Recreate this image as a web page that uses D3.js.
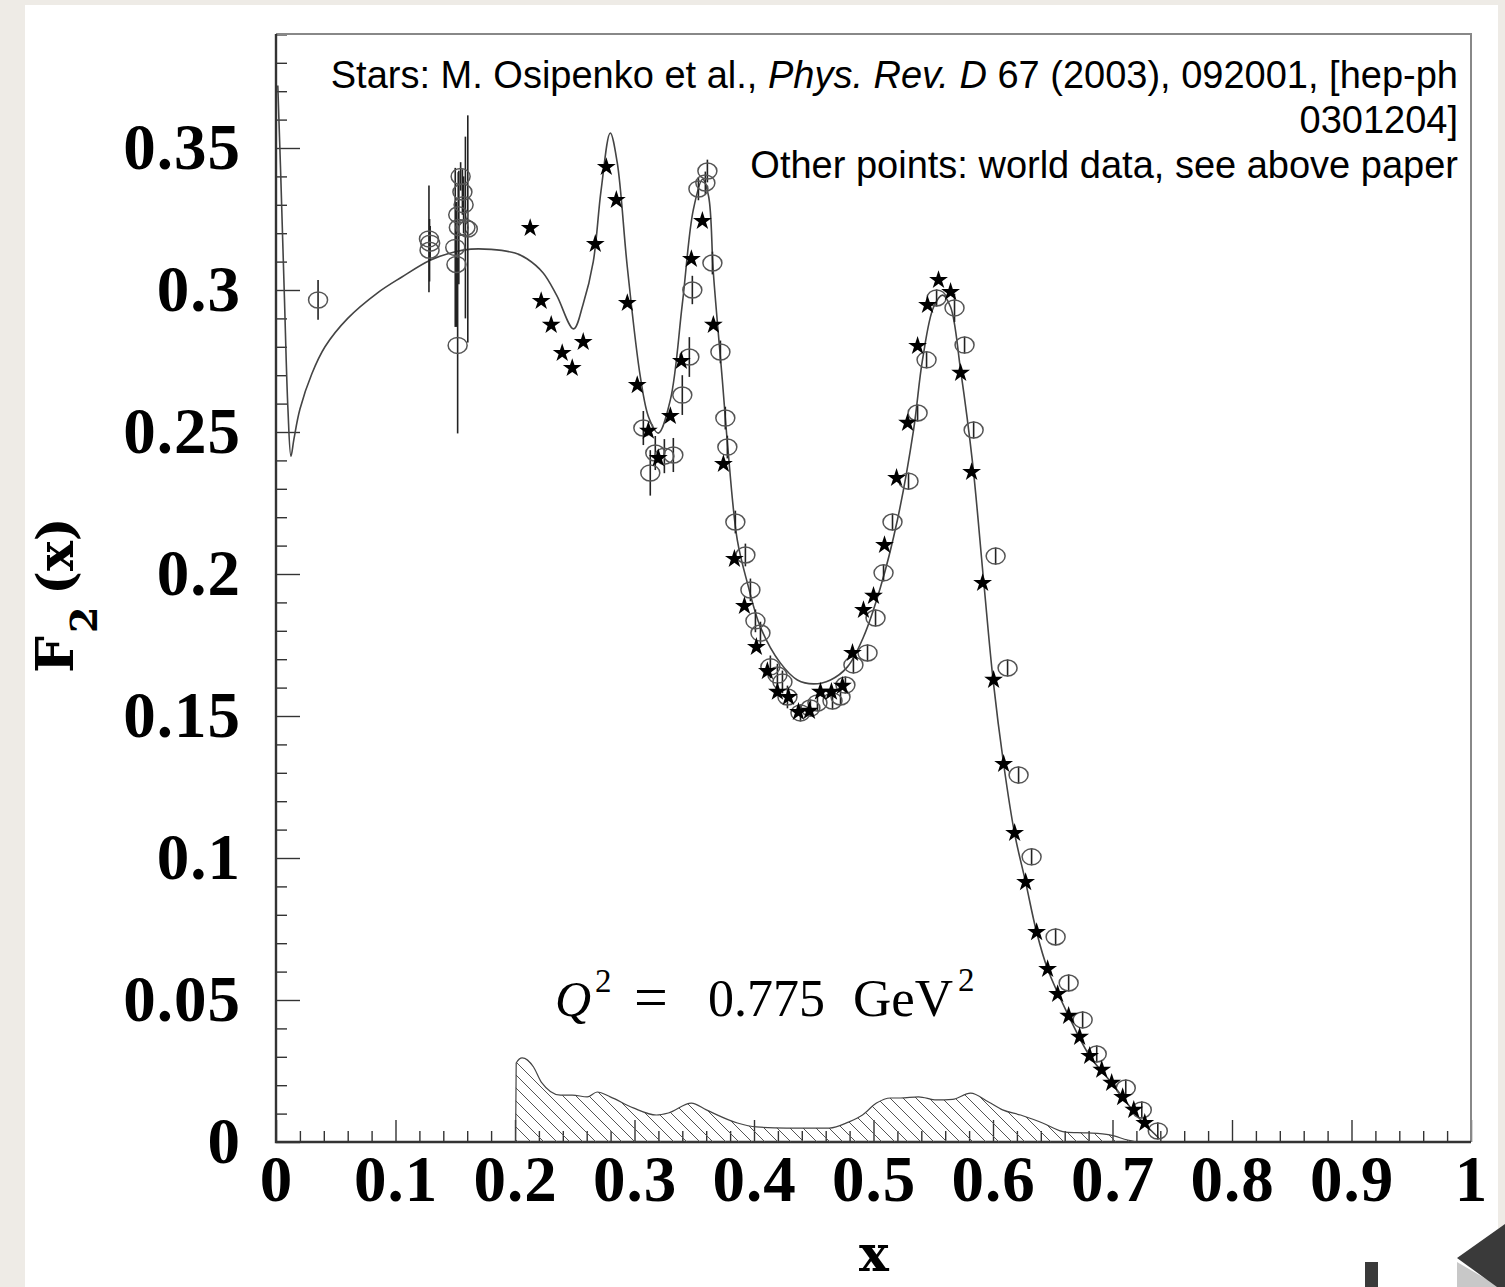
<!DOCTYPE html>
<html>
<head>
<meta charset="utf-8">
<script src="https://cdn.jsdelivr.net/npm/d3@7"></script>
<style>
  html, body { margin: 0; padding: 0; background: #eeebe6; }
  svg { display: block; }
</style>
</head>
<body>
<div id="chart"></div>
<script>
// model curve  [x, F2]
var curvePts = [
  [0.0015,0.372],[0.004,0.340],[0.007,0.298],[0.010,0.258],[0.0125,0.2415],[0.015,0.2475],
  [0.020,0.258],[0.030,0.2705],[0.041,0.280],[0.060,0.290],[0.085,0.299],[0.105,0.3045],
  [0.129,0.3105],[0.150,0.3135],[0.163,0.3144],[0.180,0.3143],[0.200,0.313],[0.210,0.311],
  [0.2236,0.306],[0.235,0.298],[0.249,0.2863],[0.257,0.295],[0.2655,0.310],[0.272,0.335],
  [0.2797,0.3553],[0.2855,0.345],[0.294,0.308],[0.3049,0.2694],[0.312,0.255],[0.3199,0.2496],
  [0.330,0.2613],[0.340,0.295],[0.3492,0.3282],[0.357,0.339],[0.362,0.333],[0.366,0.306],
  [0.3735,0.2683],[0.378,0.245],[0.386,0.212],[0.3945,0.1968],[0.4054,0.1813],[0.422,0.1687],
  [0.4363,0.1627],[0.4497,0.1613],[0.464,0.1627],[0.4782,0.1673],[0.4916,0.1778],[0.5059,0.1954],
  [0.520,0.219],[0.5335,0.2507],[0.541,0.2754],[0.5503,0.294],[0.5578,0.2982],[0.5645,0.294],
  [0.5729,0.2718],[0.5829,0.2391],[0.5921,0.1979],[0.600,0.163],[0.6089,0.1331],[0.618,0.1088],
  [0.6273,0.0915],[0.6365,0.0739],[0.6457,0.0609],[0.6633,0.0444],[0.6809,0.0303],[0.6993,0.0208],
  [0.7085,0.0158],[0.720,0.0095],[0.730,0.005],[0.7387,0.0014]
]

// stars: Osipenko et al. (CLAS)
var stars = [
  [0.2127,0.3218],[0.2219,0.2961],[0.2303,0.2877],[0.2395,0.2778],[0.2479,0.2725],[0.2571,0.2817],
  [0.2672,0.3162],[0.2764,0.3433],[0.2848,0.3317],[0.2940,0.2954],[0.3023,0.2665],[0.3116,0.2504],
  [0.3199,0.2408],[0.3300,0.2556],[0.3392,0.2750],[0.3476,0.3109],[0.3568,0.3243],[0.3660,0.2877],
  [0.3744,0.2387],[0.3836,0.2053],[0.3920,0.1887],[0.4020,0.1743],[0.4112,0.1658],[0.4196,0.1585],
  [0.4288,0.1567],[0.4372,0.1514],[0.4464,0.1518],[0.4556,0.1585],[0.4648,0.1585],[0.4740,0.1606],
  [0.4824,0.1722],[0.4916,0.1873],[0.5000,0.1923],[0.5092,0.2102],[0.5193,0.2338],[0.5285,0.2532],
  [0.5369,0.2803],[0.5452,0.2947],[0.5544,0.3035],[0.5645,0.2993],[0.5729,0.2708],[0.5821,0.2359],
  [0.5913,0.1968],[0.6005,0.1627],[0.6089,0.1331],[0.6181,0.1088],[0.6273,0.0915],[0.6365,0.0739],
  [0.6457,0.0609],[0.6541,0.0521],[0.6633,0.0444],[0.6725,0.0370],[0.6809,0.0303],[0.6910,0.0254],
  [0.6993,0.0208],[0.7085,0.0158],[0.7178,0.0113],[0.7270,0.0067]
]

// open circles: world data  [x, F2, error]
var world = [
  [0.0352,0.2965,0.0070],
  [0.1280,0.3180,0.0188],[0.1285,0.3140,0.0110],[0.1290,0.3165,0.0060],
  [0.1545,0.3400,0.0050],[0.1560,0.3345,0.0080],[0.1570,0.3300,0.0100],[0.1525,0.3265,0.0150],
  [0.1530,0.3220,0.0200],[0.1585,0.3220,0.0320],[0.1605,0.3215,0.0400],[0.1500,0.3150,0.0280],
  [0.1510,0.3090,0.0220],[0.1520,0.2805,0.0310],
  [0.3610,0.3419,0.0040],[0.3593,0.3377,0.0040],[0.3535,0.3356,0.0040],[0.3652,0.3095,0.0040],
  [0.3484,0.3000,0.0050],[0.3719,0.2782,0.0040],[0.3459,0.2764,0.0070],[0.3400,0.2630,0.0070],
  [0.3760,0.2549,0.0040],[0.3074,0.2514,0.0060],[0.3777,0.2447,0.0040],[0.3174,0.2426,0.0060],
  [0.3325,0.2419,0.0060],[0.3250,0.2415,0.0060],[0.3132,0.2356,0.0080],
  [0.3844,0.2183,0.0040],[0.3928,0.2067,0.0040],[0.3970,0.1944,0.0040],[0.4012,0.1835,0.0040],
  [0.4054,0.1792,0.0040],[0.4137,0.1673,0.0040],[0.4196,0.1644,0.0040],[0.4238,0.1620,0.0040],
  [0.4280,0.1567,0.0040],[0.4389,0.1511,0.0030],[0.4472,0.1528,0.0030],[0.4531,0.1546,0.0030],
  [0.4657,0.1553,0.0030],[0.4724,0.1567,0.0030],[0.4765,0.1609,0.0030],[0.4832,0.1680,0.0030],
  [0.4950,0.1722,0.0030],[0.5017,0.1845,0.0030],[0.5084,0.2004,0.0030],[0.5159,0.2183,0.0030],
  [0.5293,0.2327,0.0030],[0.5369,0.2567,0.0030],[0.5444,0.2754,0.0030],[0.5528,0.2972,0.0030],
  [0.5678,0.2937,0.0050],[0.5762,0.2806,0.0030],[0.5838,0.2507,0.0030],[0.6022,0.2063,0.0030],
  [0.6122,0.1669,0.0030],[0.6214,0.1292,0.0030],[0.6323,0.1004,0.0030],[0.6524,0.0722,0.0030],
  [0.6633,0.0560,0.0030],[0.6750,0.0430,0.0030],[0.6868,0.0310,0.0030],[0.7111,0.0190,0.0030],
  [0.7245,0.0113,0.0030],[0.7379,0.0039,0.0030]
]

// systematic error band (hatched)
var band = [
  [0.2005,0],[0.2010,0.0278],[0.2060,0.0296],[0.2155,0.0264],[0.2220,0.0211],[0.2380,0.0165],
  [0.2480,0.0165],[0.2605,0.0159],[0.2688,0.0176],[0.2797,0.0159],[0.2990,0.0120],[0.3183,0.0095],
  [0.3283,0.0102],[0.3476,0.0137],[0.3601,0.0113],[0.3861,0.0067],[0.4020,0.0053],[0.4271,0.0049],
  [0.4631,0.0049],[0.4790,0.0070],[0.4908,0.0095],[0.5025,0.0137],[0.5142,0.0155],[0.5226,0.0155],
  [0.5377,0.0159],[0.5528,0.0148],[0.5662,0.0150],[0.5812,0.0172],[0.5963,0.0141],[0.6080,0.0113],
  [0.6231,0.0095],[0.6415,0.0067],[0.6608,0.0035],[0.6792,0.0032],[0.6977,0.0025],[0.7127,0.0007],
  [0.7203,0]
]

var xTicks = [0, 0.1, 0.2, 0.3, 0.4, 0.5, 0.6, 0.7, 0.8, 0.9, 1]
var yTicks = [0, 0.05, 0.1, 0.15, 0.2, 0.25, 0.3, 0.35]
var xTickLabels = ['0', '0.1', '0.2', '0.3', '0.4', '0.5', '0.6', '0.7', '0.8', '0.9', '1']
var yTickLabels = ['0', '0.05', '0.1', '0.15', '0.2', '0.25', '0.3', '0.35']

var W = 1505, H = 1287
// plot frame (note: 'top' is reserved on window, so use pLeft etc)
var pLeft = 276, pRight = 1471, pTop = 34, pBottom = 1142

var svg = d3.select('#chart').append('svg')
    .attr('width', W)
    .attr('height', H)

// slide background + white card
svg.append('rect').attr('width', W).attr('height', H).style('fill', '#eeebe6')
svg.append('rect').attr('x', 25).attr('y', 5).attr('width', 1473).attr('height', H - 5)
    .style('fill', '#fff')

var defs = svg.append('defs')
var pat = defs.append('pattern')
    .attr('id', 'hatch')
    .attr('patternUnits', 'userSpaceOnUse')
    .attr('width', 13).attr('height', 13)
pat.append('path')
    .attr('d', 'M0,0 L13,13 M-2,11 L2,15 M11,-2 L15,2')
    .style('stroke', '#555').style('stroke-width', 1)
defs.append('clipPath').attr('id', 'plotclip')
    .append('rect').attr('x', pLeft).attr('y', pTop)
    .attr('width', pRight - pLeft).attr('height', pBottom - pTop)

var x = d3.scaleLinear().domain([0, 1]).range([pLeft, pRight])
var y = d3.scaleLinear().domain([0, 0.05]).range([pBottom, pBottom - 142])

// minor ticks
var xMinor = d3.range(0, 1.0001, 0.02).filter(function (d) { return Math.abs(d * 10 - Math.round(d * 10)) > 1e-6 })
var yMinor = d3.range(0, 0.3901, 0.01).filter(function (d) { return Math.abs(d * 20 - Math.round(d * 20)) > 1e-6 })

svg.append('g')
    .attr('transform', 'translate(0,' + pBottom + ')')
    .call(d3.axisBottom(x).tickValues(xMinor).tickSize(-11).tickFormat(''))
    .call(function (g) { g.select('.domain').remove() })
svg.append('g')
    .attr('transform', 'translate(' + pLeft + ',0)')
    .call(d3.axisLeft(y).tickValues(yMinor).tickSize(-11).tickFormat(''))
    .call(function (g) { g.select('.domain').remove() })

var gx = svg.append('g')
    .attr('transform', 'translate(0,' + pBottom + ')')
    .call(d3.axisBottom(x).tickValues(xTicks).tickSize(-22).tickPadding(13)
        .tickFormat(function (d, i) { return xTickLabels[i] }))
var gy = svg.append('g')
    .attr('transform', 'translate(' + pLeft + ',0)')
    .call(d3.axisLeft(y).tickValues(yTicks).tickSize(-24).tickPadding(35)
        .tickFormat(function (d, i) { return yTickLabels[i] }))

;[gx, gy].forEach(function (g) {
    g.select('.domain').remove()
    g.selectAll('text')
        .style('font-family', '"Liberation Serif", "Times New Roman", serif')
        .style('font-weight', 'bold')
        .style('font-size', '65px')
        .style('letter-spacing', '1px')
        .style('fill', '#000')
})
svg.selectAll('.tick line').style('stroke', '#333').style('stroke-width', 1.4)

// frame
svg.append('path')
    .attr('d', 'M' + pLeft + ',' + pTop + 'H' + pRight + 'V' + pBottom)
    .style('fill', 'none').style('stroke', '#888').style('stroke-width', 2)
svg.append('path')
    .attr('d', 'M' + pLeft + ',' + pTop + 'V' + pBottom + 'H' + pRight)
    .style('fill', 'none').style('stroke', '#333').style('stroke-width', 2.4)

var plot = svg.append('g').attr('clip-path', 'url(#plotclip)')

// hatched band
plot.append('path')
    .datum(band)
    .attr('d', d3.area()
        .x(function (d) { return x(d[0]) })
        .y0(y(0))
        .y1(function (d) { return y(d[1]) })
        .curve(d3.curveMonotoneX))
    .style('fill', 'url(#hatch)')
    .style('stroke', '#444')
    .style('stroke-width', 1.2)

// model curve
plot.append('path')
    .datum(curvePts)
    .attr('d', d3.line()
        .x(function (d) { return x(d[0]) })
        .y(function (d) { return y(d[1]) })
        .curve(d3.curveCatmullRom.alpha(0.5)))
    .style('fill', 'none')
    .style('stroke', '#444')
    .style('stroke-width', 1.6)

// world data error bars + circles
plot.selectAll('line.err')
    .data(world)
    .enter().append('line')
    .attr('class', 'err')
    .attr('x1', function (d) { return x(d[0]) })
    .attr('x2', function (d) { return x(d[0]) })
    .attr('y1', function (d) { return y(d[1] - d[2]) })
    .attr('y2', function (d) { return y(d[1] + d[2]) })
    .style('stroke', '#222')
    .style('stroke-width', 1.6)
plot.selectAll('ellipse')
    .data(world)
    .enter().append('ellipse')
    .attr('cx', function (d) { return x(d[0]) })
    .attr('cy', function (d) { return y(d[1]) })
    .attr('rx', 9.5).attr('ry', 8)
    .style('fill', 'none')
    .style('stroke', '#555')
    .style('stroke-width', 1.5)

// stars
plot.selectAll('path.star')
    .data(stars)
    .enter().append('path')
    .attr('class', 'star')
    .attr('d', d3.symbol().type(d3.symbolStar).size(110))
    .attr('transform', function (d) { return 'translate(' + x(d[0]) + ',' + y(d[1]) + ')' })
    .style('fill', '#000')

// reference text
var ref = svg.append('text')
    .attr('text-anchor', 'end')
    .style('font-family', '"Liberation Sans", Arial, sans-serif')
    .style('font-size', '38px')
    .style('fill', '#000')
var l1 = ref.append('tspan').attr('x', 1458).attr('y', 88)
l1.append('tspan').text('Stars: M. Osipenko et al., ')
l1.append('tspan').style('font-style', 'italic').text('Phys. Rev. D')
l1.append('tspan').text(' 67 (2003), 092001, [hep-ph')
ref.append('tspan').attr('x', 1458).attr('y', 133).text('0301204]')
ref.append('tspan').attr('x', 1458).attr('y', 178).text('Other points: world data, see above paper')

// Q^2 label
var q = svg.append('g')
    .style('font-family', '"Liberation Serif", "Times New Roman", serif')
    .style('fill', '#000')
q.append('text').attr('x', 555).attr('y', 1016).style('font-size', '50px')
    .style('font-style', 'italic').text('Q')
q.append('text').attr('x', 595).attr('y', 992).style('font-size', '33px').text('2')
q.append('text').attr('x', 634).attr('y', 1017).style('font-size', '60px').text('=')
q.append('text').attr('x', 708).attr('y', 1016).style('font-size', '52px').text('0.775')
var gev = q.append('text').attr('x', 853).attr('y', 1016).style('font-size', '53px')
gev.append('tspan').text('GeV')
gev.append('tspan').attr('dx', 5).attr('dy', -25).style('font-size', '33px').text('2')

// axis titles
var yl = svg.append('text')
    .attr('transform', 'translate(73,673) rotate(-90)')
    .style('font-family', '"DejaVu Serif", serif')
    .style('font-weight', 'bold')
    .style('fill', '#000')
yl.append('tspan').style('font-size', '52px').text('F')
yl.append('tspan').attr('dx', 3).attr('dy', 24).style('font-size', '38px').text('2')
yl.append('tspan').attr('dx', 12).attr('dy', -24).style('font-size', '50px').text('(x)')

svg.append('text')
    .attr('x', 874).attr('y', 1271)
    .attr('text-anchor', 'middle')
    .style('font-family', '"DejaVu Serif", serif')
    .style('font-weight', 'bold')
    .style('font-size', '50px')
    .text('x')

// slide controls, bottom right
svg.append('rect').attr('x', 1365).attr('y', 1262).attr('width', 13).attr('height', 25)
    .style('fill', '#3a3a3a')
svg.append('path').attr('d', 'M1457,1262 L1505,1290 L1457,1290 Z').style('fill', '#c8c8c8')
svg.append('path').attr('d', 'M1457,1258 L1505,1224 L1505,1287 L1497,1287 Z').style('fill', '#3a3a3a')
</script>
</body>
</html>
